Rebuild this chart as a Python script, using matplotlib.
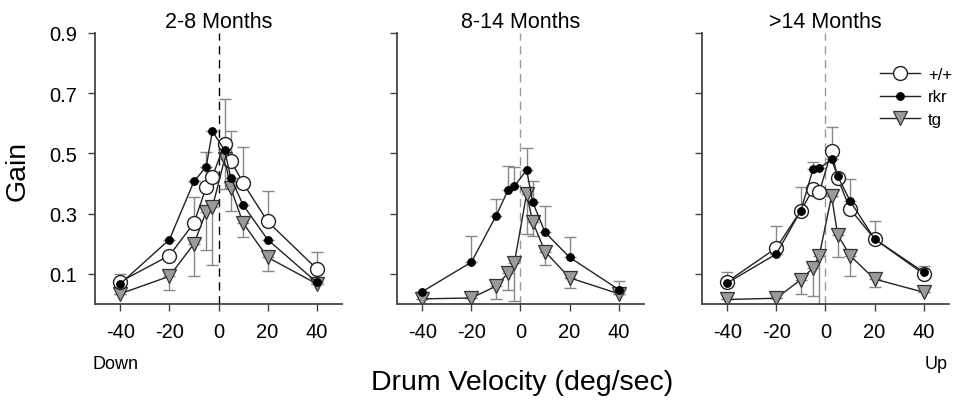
import numpy as np
import matplotlib
matplotlib.use("Agg")
import matplotlib.pyplot as plt

plt.rcParams['font.family'] = ['Liberation Sans', 'DejaVu Sans']
plt.rcParams['axes.unicode_minus'] = False

# drum velocities (deg/sec)
velocity = [-40, -20, -10, -5, -2.5, 2.5, 5, 10, 20, 40]
titles = ['2-8 Months', '8-14 Months', '>14 Months']

# 2-8 months
wt_1 = [0.074, 0.161, 0.269, 0.388, 0.423, 0.532, 0.476, 0.402, 0.274, 0.117]
wt_1_up = [0.027, 0.0, 0.086, 0.118, 0.0, 0.15, 0.10, 0.12, 0.10, 0.057]
rkr_1 = [0.067, 0.214, 0.407, 0.456, 0.574, 0.51, 0.419, 0.329, 0.214, 0.072]
tg_1 = [0.034, 0.092, 0.20, 0.307, 0.321, 0.482, 0.385, 0.269, 0.155, 0.067]
tg_1_dn = [0.0, 0.044, 0.108, 0.127, 0.19, 0.10, 0.075, 0.047, 0.044, 0.0]

# 8-14 months (no +/+ group)
rkr_2 = [0.041, 0.139, 0.292, 0.379, 0.391, 0.445, 0.338, 0.238, 0.155, 0.048]
rkr_2_up = [0.0, 0.086, 0.057, 0.079, 0.063, 0.073, 0.072, 0.086, 0.067, 0.03]
tg_2 = [0.017, 0.02, 0.059, 0.103, 0.136, 0.366, 0.272, 0.174, 0.087, 0.034]
tg_2_dn = [0.0, 0.0, 0.044, 0.058, 0.127, 0.133, 0.047, 0.046, 0.035, 0.0]

# >14 months
wt_3 = [0.074, 0.186, 0.31, 0.382, 0.371, 0.508, 0.418, 0.316, 0.216, 0.10]
wt_3_up = [0.032, 0.074, 0.078, 0.0, 0.0, 0.079, 0.0, 0.0, 0.061, 0.026]
rkr_3 = [0.07, 0.166, 0.31, 0.449, 0.451, 0.48, 0.425, 0.343, 0.216, 0.106]
rkr_3_up = [0.0, 0.0, 0.0, 0.022, 0.0, 0.0, 0.0, 0.073, 0.0, 0.0]
tg_3 = [0.015, 0.019, 0.081, 0.12, 0.161, 0.358, 0.23, 0.161, 0.083, 0.039]
tg_3_dn = [0.0, 0.0, 0.047, 0.092, 0.16, 0.0, 0.073, 0.067, 0.027, 0.0]

zeros = [0.0] * len(velocity)
panels = [
    [('+/+', wt_1, wt_1_up, zeros), ('rkr', rkr_1, zeros, zeros), ('tg', tg_1, zeros, tg_1_dn)],
    [('rkr', rkr_2, rkr_2_up, zeros), ('tg', tg_2, zeros, tg_2_dn)],
    [('+/+', wt_3, wt_3_up, zeros), ('rkr', rkr_3, rkr_3_up, zeros), ('tg', tg_3, zeros, tg_3_dn)],
]

styles = {
    '+/+': dict(marker='o', ms=10, mfc='white', mec='#222222', mew=1.0),
    'rkr': dict(marker='o', ms=5.5, mfc='black', mec='black', mew=0.8),
    'tg': dict(marker='v', ms=10, mfc='#9a9a9a', mec='#333333', mew=0.9),
}
order = {'+/+': 3, 'rkr': 4, 'tg': 2}

fig = plt.figure(figsize=(9.55, 4.06), dpi=100)
lefts = [0.0995, 0.4157, 0.735]
spine_col = '#444444'

for i, (left, series) in enumerate(zip(lefts, panels)):
    ax = fig.add_axes([left, 0.2488, 0.2586, 0.6675])
    dash_col = 'black' if i == 0 else '#999999'
    ax.axvline(0, color=dash_col, ls=(0, (6, 4)), lw=1.0, zorder=1)
    for name, y, up, dn in series:
        ax.errorbar(velocity, y, yerr=[dn, up], fmt='none', ecolor='#888888',
                    elinewidth=1.0, capsize=4, capthick=1.0, zorder=1.5)
        ax.plot(velocity, y, color='#222222', lw=1.0, label=name,
                zorder=order[name], **styles[name])
    ax.set_xlim(-50.3, 50.3)
    ax.set_ylim(0, 0.9)
    ax.set_xticks([-40, -20, 0, 20, 40])
    ax.set_yticks([0.1, 0.3, 0.5, 0.7, 0.9])
    ax.spines['top'].set_visible(False)
    ax.spines['right'].set_visible(False)
    ax.spines['left'].set_bounds(0, 0.9)
    for s in ('left', 'bottom'):
        ax.spines[s].set_color(spine_col)
        ax.spines[s].set_linewidth(1.3)
    ax.tick_params(direction='out', length=5, width=1.0, color=spine_col,
                   labelsize=14.5, pad=8)
    if i > 0:
        ax.tick_params(axis='y', labelleft=False)
    ax.set_title(titles[i], fontsize=15.5, pad=4)
    if i == 2:
        ax.legend(loc='upper left', bbox_to_anchor=(0.72, 0.875), frameon=False,
                  fontsize=12, handlelength=2.4, labelspacing=0.45,
                  handletextpad=0.5, borderaxespad=0, borderpad=0)

fig.text(0.018, 0.58, 'Gain', fontsize=20.5, rotation=90, ha='center', va='center')
fig.text(0.097, 0.101, 'Down', fontsize=13, ha='left', va='center')
fig.text(0.992, 0.101, 'Up', fontsize=13, ha='right', va='center')
fig.text(0.547, 0.057, 'Drum Velocity (deg/sec)', fontsize=20.5, ha='center', va='center')

fig.savefig('out.png', dpi=100)
